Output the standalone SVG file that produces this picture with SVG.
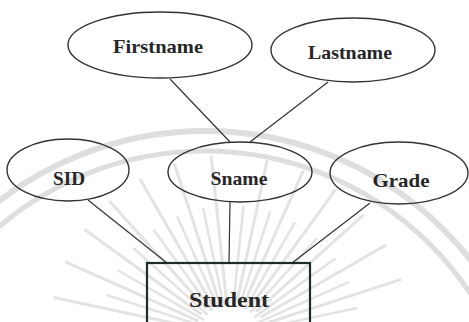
<svg xmlns="http://www.w3.org/2000/svg" xmlns:xlink="http://www.w3.org/1999/xlink" width="469" height="322" viewBox="0 0 469 322">
<style>
.attr{fill:none;stroke:#333;stroke-width:1.4}
.ent{fill:none;stroke:#1e2b2b;stroke-width:2.2}
.lbl{font-family:"Liberation Serif","Times New Roman",serif;font-weight:bold;font-size:19px;fill:#262626;text-anchor:middle}
.conn line{stroke:#333;stroke-width:1.2}
.wm{fill:none;stroke:#dedede}
</style>
<defs>
<line id="rayL" x1="195" y1="335" x2="50" y2="335" stroke="#e3e3e3" stroke-width="3"/>
<line id="rayS" x1="200" y1="335" x2="100" y2="335" stroke="#e3e3e3" stroke-width="2.5"/>
</defs>
<rect width="469" height="322" fill="#fff"/>
<g id="watermark">
<circle class="wm" cx="205" cy="469" r="338" stroke-width="6"/>
<circle class="wm" cx="205" cy="469" r="318" stroke-width="5"/>
<use xlink:href="#rayL" transform="rotate(12 230 335)"/>
<use xlink:href="#rayS" transform="rotate(18 230 335)"/>
<use xlink:href="#rayL" transform="rotate(24 230 335)"/>
<use xlink:href="#rayS" transform="rotate(30 230 335)"/>
<use xlink:href="#rayL" transform="rotate(36 230 335)"/>
<use xlink:href="#rayS" transform="rotate(42 230 335)"/>
<use xlink:href="#rayL" transform="rotate(48 230 335)"/>
<use xlink:href="#rayS" transform="rotate(54 230 335)"/>
<use xlink:href="#rayL" transform="rotate(60 230 335)"/>
<use xlink:href="#rayS" transform="rotate(66 230 335)"/>
<use xlink:href="#rayL" transform="rotate(72 230 335)"/>
<use xlink:href="#rayS" transform="rotate(78 230 335)"/>
<use xlink:href="#rayL" transform="rotate(84 230 335)"/>
<use xlink:href="#rayS" transform="rotate(96 230 335)"/>
<use xlink:href="#rayL" transform="rotate(102 230 335)"/>
<use xlink:href="#rayS" transform="rotate(108 230 335)"/>
<use xlink:href="#rayL" transform="rotate(114 230 335)"/>
<use xlink:href="#rayS" transform="rotate(120 230 335)"/>
<use xlink:href="#rayL" transform="rotate(126 230 335)"/>
<use xlink:href="#rayS" transform="rotate(132 230 335)"/>
<use xlink:href="#rayL" transform="rotate(138 230 335)"/>
<use xlink:href="#rayS" transform="rotate(144 230 335)"/>
<use xlink:href="#rayL" transform="rotate(150 230 335)"/>
<use xlink:href="#rayS" transform="rotate(156 230 335)"/>
<use xlink:href="#rayL" transform="rotate(162 230 335)"/>
<use xlink:href="#rayS" transform="rotate(168 230 335)"/>
</g>
<g id="connectors" class="conn">
<line x1="170" y1="79" x2="230" y2="142"/>
<line x1="328" y1="82" x2="250" y2="142"/>
<line x1="88" y1="200" x2="167" y2="263"/>
<line x1="230" y1="202" x2="229" y2="263"/>
<line x1="370" y1="203" x2="292" y2="263"/>
</g>
<g id="firstname">
<ellipse class="attr" cx="160" cy="45" rx="92" ry="33"/>
<text class="lbl" x="158" y="53" textLength="90" lengthAdjust="spacingAndGlyphs">Firstname</text>
</g>
<g id="lastname">
<ellipse class="attr" cx="353" cy="50" rx="82" ry="32"/>
<text class="lbl" x="350" y="59" textLength="84" lengthAdjust="spacingAndGlyphs">Lastname</text>
</g>
<g id="sid">
<ellipse class="attr" cx="68" cy="170" rx="61" ry="31"/>
<text class="lbl" x="69" y="185" textLength="32" lengthAdjust="spacingAndGlyphs">SID</text>
</g>
<g id="sname">
<ellipse class="attr" cx="240" cy="172" rx="72" ry="30"/>
<text class="lbl" x="239" y="185" textLength="57" lengthAdjust="spacingAndGlyphs">Sname</text>
</g>
<g id="grade">
<ellipse class="attr" cx="399" cy="173" rx="69" ry="31"/>
<text class="lbl" x="401" y="187" textLength="57" lengthAdjust="spacingAndGlyphs">Grade</text>
</g>
<g id="student">
<rect class="ent" x="147" y="263" width="163" height="70"/>
<text class="lbl" x="229" y="307" style="font-size:22px" textLength="80" lengthAdjust="spacingAndGlyphs">Student</text>
</g>
</svg>
